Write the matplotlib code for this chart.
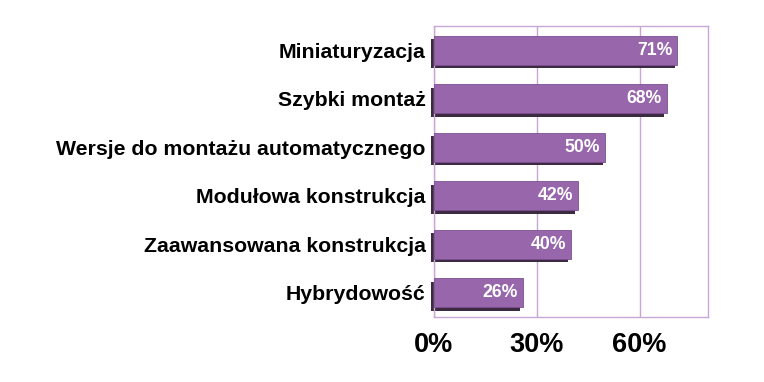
import matplotlib.pyplot as plt
import matplotlib.transforms as mtransforms

plt.rcParams["font.family"] = ["Liberation Sans", "DejaVu Sans"]

categories = [
    "Miniaturyzacja",
    "Szybki montaż",
    "Wersje do montażu automatycznego",
    "Modułowa konstrukcja",
    "Zaawansowana konstrukcja",
    "Hybrydowość",
]
values = [71, 68, 50, 42, 40, 26]
ticks = [0, 30, 60]

grid_color = "#c9a6d6"
bar_color = "#9766ab"
shadow_color = "#3b2a40"

fig = plt.figure(figsize=(7.64, 3.82), dpi=100)
ax = fig.add_axes([0.568, 0.170, 0.359, 0.762])

pos = list(range(len(categories)))[::-1]

# dark shadow behind each bar, shifted down-left
shadow = mtransforms.ScaledTranslation(-2 / 72, -2.5 / 72, fig.dpi_scale_trans)
sh = ax.barh(pos, values, height=0.6, color=shadow_color,
             transform=ax.transData + shadow, zorder=2)
for p in sh:
    p.set_clip_on(False)
bars = ax.barh(pos, values, height=0.6, color=bar_color,
               edgecolor="#7d4f92", linewidth=0.6, zorder=3)

for y, v in zip(pos, values):
    ax.text(v - 1.5, y, f"{v}%", ha="right", va="center",
            color="white", fontsize=12.7, fontweight="bold", zorder=4)

ax.set_xlim(0, 80)
ax.set_ylim(-0.5, len(categories) - 0.5)
ax.set_xticks(ticks)
ax.set_xticklabels([f"{t}%" for t in ticks], fontsize=19.5, fontweight="bold")
ax.set_yticks(pos)
ax.set_yticklabels(categories, fontsize=15.3, fontweight="bold")
ax.tick_params(length=0)
ax.tick_params(axis="x", pad=11)
ax.tick_params(axis="y", pad=6)
ax.xaxis.grid(True, color=grid_color, linewidth=1)
ax.set_axisbelow(True)
for s in ax.spines.values():
    s.set_color(grid_color)
    s.set_linewidth(1)

plt.savefig("out.png", dpi=100)
